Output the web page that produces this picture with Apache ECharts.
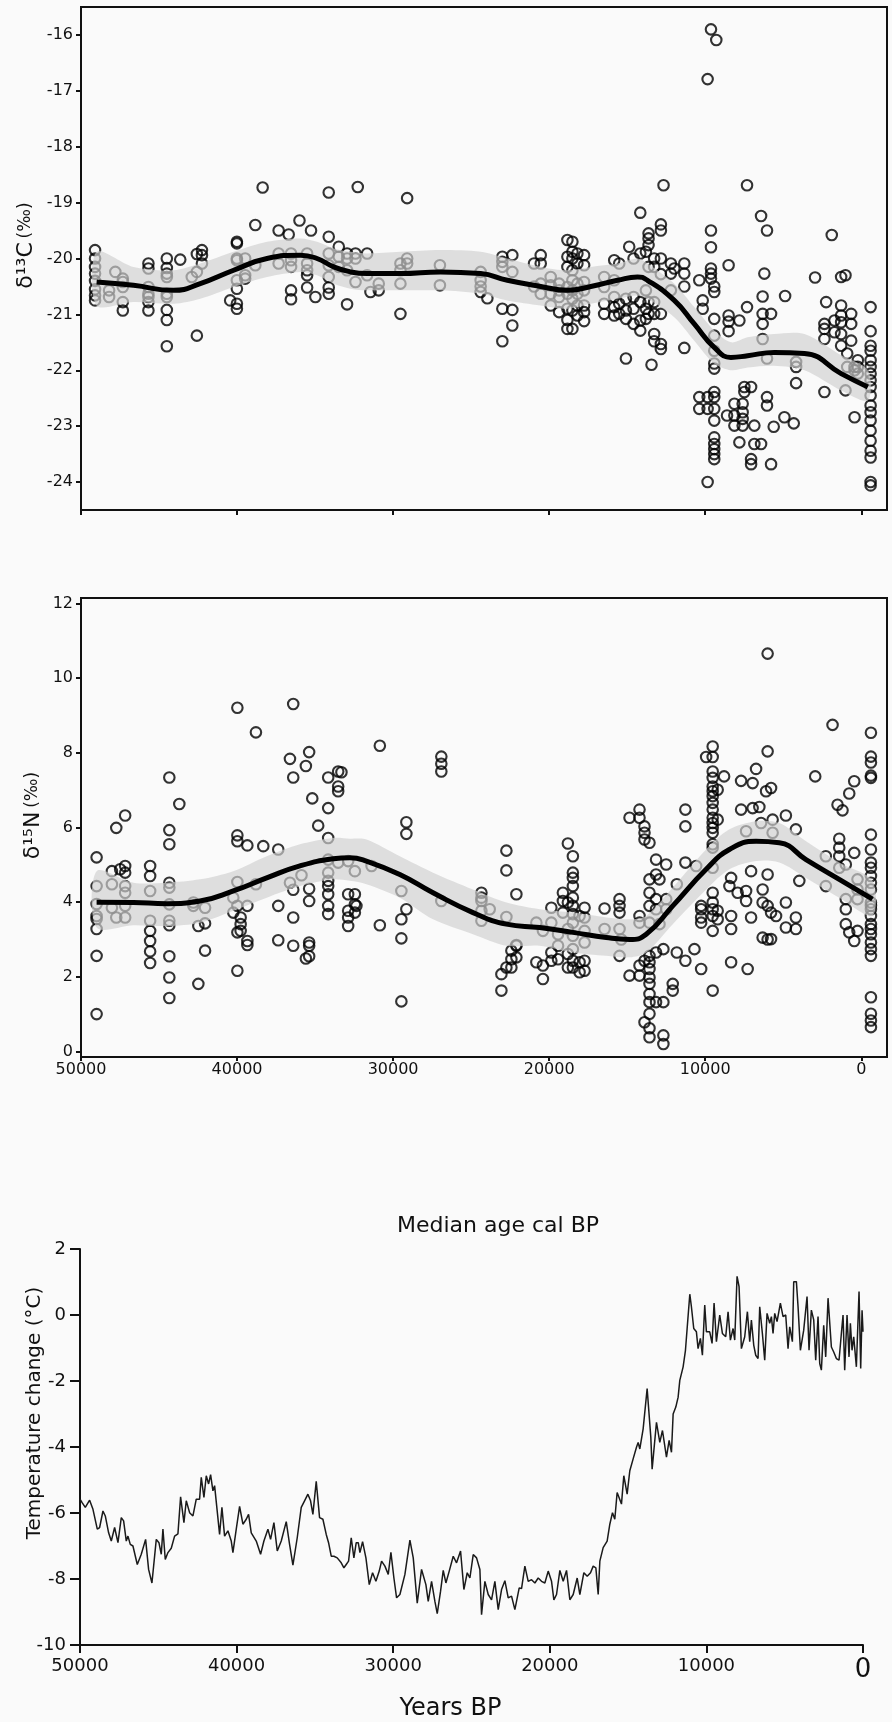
<!DOCTYPE html>
<html>
<head>
<meta charset="utf-8">
<script src="https://cdn.jsdelivr.net/npm/echarts@6/dist/echarts.min.js"></script>
<style>
html,body{margin:0;padding:0;background:#fafafa;}
#chart{width:892px;height:1722px;}
</style>
</head>
<body>
<div id="chart"></div>
<script>
// ---------- δ13C scatter (median age cal BP, ‰) ----------
var c13Points = [
[49100,-19.85],[49100,-20.0],[49100,-20.15],[49100,-20.27],[49100,-20.4],[49100,-20.55],[49100,-20.66],[49100,-20.75],
[48200,-20.57],[48200,-20.69],[47800,-20.24],
[47320,-20.93],[47320,-20.78],[47320,-20.36],[47320,-20.42],[47320,-20.51],
[45680,-20.93],[45680,-20.78],[45680,-20.63],[45680,-20.51],[45680,-20.09],[45680,-20.18],[45680,-20.69],
[44500,-20.0],[44500,-20.17],[44500,-20.27],[44500,-20.33],[44500,-20.63],[44500,-20.69],[44500,-20.92],[44500,-21.1],[44500,-21.57],
[43640,-20.02],[42900,-20.33],[42575,-19.92],[42575,-21.38],[42575,-20.24],
[42250,-19.85],[42250,-19.94],[42250,-20.09],[40440,-20.75],
[40010,-19.7],[40010,-19.73],[40010,-20.54],[40010,-20.81],[40010,-20.9],[40010,-20.0],[40010,-20.03],[40010,-20.39],
[39480,-20.0],[39480,-20.3],[39480,-20.36],[38830,-19.4],[38830,-20.12],[38360,-18.73],
[37335,-19.5],[37335,-19.91],[37335,-20.09],[36690,-19.57],
[36540,-20.57],[36540,-20.73],[36540,-19.91],[36540,-20.03],[36540,-20.15],[36000,-19.32],
[35510,-20.52],[35510,-19.91],[35510,-20.09],[35510,-20.21],[35510,-20.3],[35260,-19.5],[34980,-20.69],
[34125,-18.82],[34125,-19.61],[34125,-20.33],[34125,-20.52],[34125,-20.63],[34125,-19.91],[34125,-20.12],
[33480,-19.79],[33480,-19.97],[33480,-20.15],
[32950,-19.91],[32950,-20.0],[32950,-20.21],[32950,-20.82],
[32410,-20.42],[32410,-20.0],[32410,-19.91],[32265,-18.72],
[31665,-19.91],[31665,-20.3],[31450,-20.6],[30920,-20.57],[30920,-20.45],
[29530,-20.99],[29530,-20.09],[29530,-20.21],[29530,-20.45],
[29100,-18.92],[29100,-20.0],[29100,-20.09],[27000,-20.12],[27000,-20.48],
[24390,-20.24],[24390,-20.39],[24390,-20.5],[24390,-20.6],[23960,-20.71],
[23000,-19.97],[23000,-20.06],[23000,-20.15],[23000,-20.9],[23000,-21.48],
[22360,-19.94],[22360,-20.24],[22360,-20.92],[22360,-21.2],
[20970,-20.09],[20970,-20.5],[20540,-19.94],[20540,-20.09],[20540,-20.45],[20540,-20.63],
[19900,-20.33],[19900,-20.48],[19900,-20.63],[19900,-20.84],
[19360,-20.45],[19360,-20.57],[19360,-20.69],[19360,-20.96],
[18830,-19.67],[18830,-19.97],[18830,-20.15],[18830,-20.51],[18830,-20.63],[18830,-20.9],[18830,-21.1],[18830,-21.26],
[18510,-19.7],[18510,-19.88],[18510,-20.0],[18510,-20.21],[18510,-20.39],[18510,-20.57],[18510,-20.72],[18510,-20.93],[18510,-21.26],
[18190,-19.91],[18190,-20.09],[18190,-20.45],[18190,-20.63],[18190,-20.84],[18190,-21.02],
[17760,-19.94],[17760,-20.12],[17760,-20.42],[17760,-20.57],[17760,-20.84],[17760,-20.96],[17760,-21.12],
[16475,-20.33],[16475,-20.51],[16475,-20.81],[16475,-20.99],
[15830,-20.03],[15830,-20.39],[15830,-20.69],[15830,-20.87],[15830,-21.02],
[15510,-20.09],[15510,-20.81],[15510,-20.99],
[15080,-20.72],[15080,-20.93],[15080,-21.08],[15080,-21.79],[14870,-19.79],
[14590,-20.0],[14590,-20.69],[14590,-20.9],[14590,-21.17],
[14160,-19.18],[14160,-19.91],[14160,-20.78],[14160,-21.11],[14160,-21.29],
[13800,-19.88],[13800,-20.57],[13800,-20.9],[13800,-21.08],
[13630,-19.55],[13630,-19.64],[13630,-19.76],[13630,-20.15],[13630,-20.78],[13630,-20.99],[13440,-21.9],
[13270,-20.0],[13270,-20.15],[13270,-20.78],[13270,-20.99],[13270,-21.35],[13270,-21.48],
[12840,-19.39],[12840,-19.5],[12840,-20.0],[12840,-20.28],[12840,-20.99],[12840,-21.53],[12840,-21.62],
[12670,-18.69],[12200,-20.09],[12200,-20.27],[12200,-20.57],[11980,-20.18],
[11340,-20.09],[11340,-20.27],[11340,-20.5],[11340,-21.6],
[10380,-20.39],[10380,-22.48],[10380,-22.69],[10160,-20.75],[10160,-20.9],
[9845,-22.48],[9845,-22.69],[9845,-24.0],[9845,-16.79],
[9630,-15.9],[9630,-19.5],[9630,-19.8],[9630,-20.18],[9630,-20.27],[9630,-20.36],[9290,-16.09],
[9420,-20.5],[9420,-20.6],[9420,-21.08],[9420,-21.38],[9420,-21.65],[9420,-21.88],[9420,-21.97],[9420,-22.39],[9420,-22.48],[9420,-22.69],[9420,-22.9],[9420,-23.2],[9420,-23.32],[9420,-23.41],[9420,-23.5],[9420,-23.59],
[8500,-20.12],[8500,-21.02],[8500,-21.13],[8500,-21.3],[8600,-22.81],
[8130,-22.6],[8130,-22.99],[8130,-22.81],[7810,-21.11],[7810,-23.29],
[7600,-22.6],[7600,-22.75],[7600,-22.87],[7600,-22.99],[7490,-22.3],[7490,-22.39],
[7320,-18.69],[7320,-20.87],[7060,-22.3],[7060,-23.59],[7060,-23.68],[6850,-22.99],[6850,-23.32],
[6420,-19.24],[6420,-23.32],[6320,-20.68],[6320,-20.99],[6320,-21.17],[6320,-21.44],[6210,-20.27],
[6040,-19.5],[6040,-22.48],[6040,-22.63],[6040,-21.79],[5780,-20.99],[5780,-23.68],[5610,-23.01],
[4880,-20.67],[4925,-22.84],[4325,-22.95],[4175,-22.23],[4175,-21.85],[4175,-21.94],[2960,-20.34],
[2360,-22.39],[2360,-21.17],[2360,-21.26],[2360,-21.44],[2250,-20.78],[1890,-19.58],[1715,-21.11],[1715,-21.32],
[1290,-20.33],[1290,-20.84],[1290,-21.02],[1290,-21.14],[1290,-21.35],[1290,-21.56],
[1010,-20.3],[1010,-22.36],[900,-21.7],[900,-21.94],[645,-20.99],[645,-21.17],[645,-21.47],
[430,-22.84],[430,-21.94],[430,-22.0],[220,-21.82],[220,-21.94],[220,-22.06],
[-600,-20.87],[-600,-21.3],[-600,-21.56],[-600,-21.65],[-600,-21.82],[-600,-21.94],[-600,-22.06],[-600,-22.18],[-600,-22.3],[-600,-22.45],[-600,-22.63],[-600,-22.75],[-600,-22.9],[-600,-23.08],[-600,-23.26],[-600,-23.44],[-600,-23.56],[-600,-24.0],[-600,-24.06]
];
var c13FitYears = [49000,46640,44070,42360,40220,38080,35940,34875,33800,32730,31665,29530,26956,24390,22680,20540,18830,17330,15620,14340,13700,11980,10700,9420,8350,7280,5570,3640,1290,-425];
var c13Fit = [-20.42,-20.48,-20.57,-20.45,-20.21,-20.0,-19.94,-20.0,-20.15,-20.24,-20.27,-20.27,-20.24,-20.27,-20.39,-20.5,-20.57,-20.5,-20.39,-20.33,-20.39,-20.75,-21.17,-21.59,-21.77,-21.74,-21.68,-21.7,-22.06,-22.3];
var c13Hi = [-19.88,-20.15,-20.21,-20.09,-19.88,-19.7,-19.64,-19.7,-19.82,-19.88,-19.91,-19.88,-19.85,-19.88,-20.0,-20.15,-20.21,-20.15,-20.09,-20.0,-20.09,-20.45,-20.87,-21.29,-21.5,-21.41,-21.35,-21.35,-21.73,-22.0];
var c13Lo = [-20.84,-20.78,-20.81,-20.72,-20.51,-20.33,-20.24,-20.3,-20.45,-20.54,-20.57,-20.57,-20.57,-20.63,-20.75,-20.84,-20.9,-20.81,-20.72,-20.66,-20.72,-21.05,-21.47,-21.88,-22.0,-21.95,-21.92,-22.0,-22.36,-22.54];

// ---------- δ15N scatter ----------
var n15Points = [
[49000,5.2],[49000,4.43],[49000,3.95],[49000,3.63],[49000,3.55],[49000,3.28],[49000,2.56],[49000,1.0],
[48020,4.83],[48020,4.48],[48020,3.85],[47740,5.99],[47740,3.59],[47490,4.88],
[47170,6.32],[47170,4.97],[47170,4.79],[47170,4.43],[47170,4.25],[47170,3.9],[47170,3.59],
[45570,4.97],[45570,4.7],[45570,4.3],[45570,3.23],[45570,2.96],[45570,2.68],[45570,2.37],[45570,3.5],
[44340,7.34],[44340,5.93],[44340,5.55],[44340,4.52],[44340,4.39],[44340,3.94],[44340,3.5],[44340,3.38],[44340,2.55],[44340,1.98],[44340,1.43],
[43700,6.63],[42800,3.99],[42800,3.9],[42480,3.36],[42480,1.81],[42050,3.85],[42050,3.43],[42050,2.7],
[40240,4.12],[40240,3.72],
[39980,9.21],[39980,5.79],[39980,5.63],[39980,3.19],[39980,2.16],[39980,4.54],[39980,3.9],
[39770,3.59],[39770,3.41],[39770,3.23],[39340,5.52],[39340,2.96],[39340,2.85],[39340,3.9],
[38790,8.55],[38790,4.48],[38320,5.5],[37360,5.41],[37360,3.9],[37360,2.98],[36610,7.84],[36610,4.52],
[36400,9.31],[36400,7.34],[36400,4.33],[36400,3.59],[36400,2.83],[35870,4.72],[35590,7.65],[35590,2.49],
[35380,8.02],[35380,4.36],[35380,4.03],[35380,2.92],[35380,2.83],[35380,2.55],[35180,6.78],[34800,6.05],
[34160,7.34],[34160,6.52],[34160,5.72],[34160,5.14],[34160,4.79],[34160,4.57],[34160,4.43],[34160,4.21],[34160,3.9],[34160,3.68],
[33520,7.5],[33520,7.1],[33520,6.97],[33520,5.06],[33310,7.48],
[32880,4.21],[32880,3.77],[32880,3.59],[32880,3.36],[32880,5.1],
[32450,4.21],[32450,3.94],[32450,3.72],[32450,4.83],[32350,3.9],[31380,4.97],[30850,8.19],[30850,3.38],
[29470,3.54],[29470,3.03],[29470,1.34],[29470,4.3],[29150,6.14],[29150,5.83],[29150,3.81],
[26910,7.9],[26910,7.71],[26910,7.5],[26910,4.03],
[24340,4.25],[24340,4.12],[24340,4.03],[24340,3.77],[24340,3.5],[23810,3.81],[23060,2.07],[23060,1.63],
[22740,5.38],[22740,4.85],[22740,2.25],[22740,3.6],[22420,2.47],[22420,2.25],[22420,2.7],
[22100,4.21],[22100,2.83],[22100,2.52],[22100,2.85],[20820,2.39],[20820,3.45],[20400,2.3],[20400,1.94],[20400,3.23],
[19860,3.85],[19860,2.65],[19860,2.43],[19860,3.45],[19430,2.83],[19430,2.47],[19430,3.14],
[19120,4.25],[19120,4.03],[19120,3.72],[18800,5.57],[18800,3.99],[18800,2.61],[18800,2.25],[18800,3.28],
[18480,5.23],[18480,4.79],[18480,4.65],[18480,4.43],[18480,4.12],[18480,3.9],[18480,3.68],[18480,2.74],[18480,2.43],[18480,2.25],[18480,3.45],[18480,3.1],
[18050,3.63],[18050,2.39],[18050,2.12],[17730,3.85],[17730,3.59],[17730,2.43],[17730,2.16],[17730,3.23],[17730,2.92],
[16450,3.83],[16450,3.28],[15490,4.08],[15490,3.9],[15490,3.72],[15490,2.56],[15490,3.28],[15380,3.0],
[14850,6.26],[14850,2.03],[14210,6.48],[14210,6.26],[14210,3.63],[14210,2.3],[14210,2.03],[14210,3.45],
[13890,6.03],[13890,5.86],[13890,5.68],[13890,2.43],[13890,0.78],
[13570,5.59],[13570,4.61],[13570,4.25],[13570,3.9],[13570,3.45],[13570,2.56],[13570,2.39],[13570,2.21],[13570,1.98],[13570,1.81],[13570,1.54],[13570,1.32],[13570,1.01],[13570,0.62],[13570,0.38],
[13150,5.14],[13150,4.74],[13150,4.08],[13150,3.81],[13150,2.65],[13150,1.32],[12930,4.61],[12930,3.41],
[12680,2.74],[12680,1.32],[12680,0.43],[12680,0.2],[12500,5.01],[12500,4.08],[12500,3.81],[12080,1.81],[12080,1.63],
[11820,4.48],[11820,2.65],[11270,6.48],[11270,6.03],[11270,5.06],[11270,2.43],[10690,2.74],[10580,4.97],
[10260,3.9],[10260,3.81],[10260,3.59],[10260,3.45],[10260,2.21],[9940,7.89],
[9520,8.17],[9520,7.89],[9520,7.5],[9520,7.33],[9520,7.1],[9520,6.97],[9520,6.84],[9520,6.66],[9520,6.48],[9520,6.26],[9520,6.12],[9520,5.99],[9520,5.86],[9520,5.55],[9520,5.46],[9520,4.25],[9520,3.99],[9520,3.81],[9520,3.63],[9520,3.23],[9520,1.63],[9520,4.92],
[9200,7.01],[9200,6.21],[9200,3.77],[9200,3.54],[8790,7.37],[8340,4.65],[8340,3.63],[8340,3.28],[8340,2.39],[8450,4.43],
[7920,4.25],[7700,7.25],[7700,6.48],[7380,4.3],[7380,4.03],[7380,5.9],[7280,2.21],[7060,3.59],[7060,4.83],
[6960,7.19],[6960,6.52],[6740,7.57],[6530,6.55],[6420,6.12],[6320,4.34],[6320,3.99],[6320,3.05],[6100,6.97],
[6000,10.66],[6000,8.04],[6000,4.74],[6000,3.9],[6000,3.0],[5780,7.06],[5780,3.72],[5780,3.01],[5680,6.21],[5680,5.86],
[5460,3.63],[4830,6.32],[4830,3.99],[4830,3.32],[4190,3.59],[4190,3.28],[4190,5.95],[3970,4.57],[2950,7.37],
[2270,4.43],[2270,5.23],[1840,8.75],[1520,6.61],[1410,5.7],[1410,5.46],[1410,5.23],[1410,4.92],[1200,6.46],
[990,5.01],[990,4.08],[990,3.81],[990,3.41],[770,6.91],[770,3.19],[450,7.24],[450,5.32],[450,2.96],
[240,4.61],[240,3.23],[240,4.34],[240,4.08],
[-620,8.54],[-620,7.9],[-620,7.74],[-620,7.39],[-620,7.33],[-620,5.81],[-620,5.41],[-620,5.06],[-620,4.92],[-620,4.52],[-620,4.34],[-620,3.63],[-620,3.41],[-620,3.28],[-620,3.14],[-620,2.92],[-620,2.74],[-620,2.56],[-620,1.45],[-620,1.01],[-620,0.83],[-620,0.65],[-620,4.7],[-620,3.99],[-620,3.9],[-620,3.81]
];
var n15FitYears = [49000,46640,44500,42370,40240,38100,35970,33840,32770,31710,29570,27440,24880,22740,20610,18480,16340,14850,13780,12080,9940,8450,6740,5250,3540,1410,-720];
var n15Fit = [4.0,3.99,3.96,4.03,4.3,4.65,4.97,5.16,5.19,5.1,4.74,4.25,3.72,3.41,3.32,3.19,3.05,3.0,3.14,3.9,4.88,5.41,5.63,5.59,5.14,4.61,4.08];
var n15Hi = [4.83,4.52,4.52,4.61,4.83,5.23,5.55,5.72,5.7,5.68,5.23,4.79,4.34,3.99,3.81,3.72,3.59,3.54,3.63,4.39,5.41,5.95,6.17,6.12,5.63,5.06,4.57];
var n15Lo = [3.32,3.38,3.36,3.45,3.77,4.12,4.43,4.61,4.57,4.48,4.12,3.54,3.14,2.83,2.83,2.65,2.56,2.52,2.65,3.41,4.34,4.88,5.1,5.06,4.65,4.12,3.63];

// ---------- Temperature change (°C) vs Years BP ----------
var tempSeries = [
[50000,-5.58],[49875,-5.68],[49662,-5.83],[49385,-5.61],[49172,-5.89],[48896,-6.49],[48747,-6.44],[48534,-5.94],[48385,-6.09],
[48172,-6.6],[48002,-6.85],[47789,-6.44],[47576,-6.9],[47364,-6.14],[47215,-6.24],[47044,-6.85],[46938,-6.7],[46789,-6.95],
[46619,-7.0],[46342,-7.56],[46087,-7.25],[45810,-6.8],[45619,-7.71],[45406,-8.12],[45129,-6.8],[44959,-6.9],[44810,-7.25],
[44704,-6.49],[44555,-7.41],[44385,-7.2],[44172,-7.07],[43959,-6.7],[43746,-6.63],[43576,-5.51],[43363,-6.29],[43214,-5.63],
[43001,-5.99],[42788,-6.09],[42576,-5.58],[42363,-5.58],[42256,-4.92],[42086,-5.53],[41937,-4.87],[41788,-5.12],[41660,-4.84],
[41512,-5.33],[41405,-5.17],[41086,-6.65],[40937,-5.83],[40767,-6.7],[40554,-6.54],[40341,-6.85],[40235,-7.2],[40022,-6.49],
[39809,-5.8],[39596,-6.34],[39384,-6.19],[39235,-6.04],[39064,-6.6],[38745,-6.85],[38468,-7.25],[38256,-6.85],[38000,-6.49],
[37830,-6.8],[37617,-6.29],[37404,-7.15],[37149,-6.85],[36830,-6.26],[36617,-6.95],[36404,-7.58],[36128,-6.75],[35872,-5.83],
[35660,-5.63],[35447,-5.43],[35277,-5.63],[35128,-6.04],[34915,-5.04],[34702,-6.14],[34489,-6.19],[34276,-6.65],[34127,-6.9],
[33957,-7.31],[33787,-7.31],[33574,-7.36],[33319,-7.51],[33148,-7.66],[32999,-7.56],[32850,-7.46],[32680,-6.75],[32510,-7.36],
[32361,-6.9],[32232,-6.9],[32125,-7.2],[31955,-6.87],[31742,-7.36],[31529,-8.17],[31317,-7.81],[31104,-8.07],[30891,-7.76],
[30742,-7.46],[30529,-7.61],[30316,-7.86],[30146,-7.19],[29955,-7.97],[29784,-8.57],[29572,-8.47],[29252,-7.86],[28933,-6.82],
[28720,-7.36],[28465,-8.73],[28189,-7.71],[27912,-8.17],[27763,-8.68],[27550,-8.07],[27337,-8.68],[27188,-9.05],[26975,-8.37],
[26805,-7.74],[26635,-8.12],[26422,-7.76],[26167,-7.31],[25954,-7.51],[25699,-7.15],[25486,-8.32],[25273,-7.81],[25103,-7.97],
[24890,-7.26],[24677,-7.36],[24464,-7.71],[24358,-9.08],[24145,-8.07],[23932,-8.47],[23720,-8.63],[23507,-8.07],[23294,-8.93],
[23081,-8.32],[22868,-8.05],[22656,-8.57],[22443,-8.52],[22230,-8.93],[21953,-8.27],[21804,-8.29],[21592,-7.61],[21379,-8.07],
[21166,-8.02],[20953,-8.12],[20740,-7.97],[20528,-8.07],[20315,-8.12],[20102,-7.76],[19889,-8.07],[19740,-8.63],[19570,-8.47],
[19357,-7.74],[19144,-8.07],[18932,-7.74],[18719,-8.63],[18506,-8.47],[18251,-7.97],[18081,-8.47],[17825,-7.81],[17612,-7.92],
[17399,-7.81],[17229,-7.61],[17059,-7.66],[16910,-8.47],[16804,-7.46],[16593,-7.05],[16338,-6.85],[16167,-6.34],[15997,-5.99],
[15849,-6.19],[15700,-5.38],[15423,-5.73],[15274,-4.87],[15061,-5.43],[14891,-4.72],[14678,-4.36],[14465,-4.01],[14358,-3.86],
[14252,-4.06],[14039,-3.45],[13784,-2.23],[13657,-2.28],[13550,-3.7],[13465,-4.67],[13188,-3.25],[12976,-3.86],[12805,-3.5],
[12550,-4.31],[12380,-3.8],[12230,-4.16],[12124,-3.0],[11954,-2.79],[11805,-2.49],[11699,-1.98],[11486,-1.57],[11337,-1.07],
[11230,-0.41],[11060,0.63],[10957,0.25],[10808,-0.41],[10638,-0.51],[10532,-1.02],[10383,-0.71],[10255,-1.22],[10106,0.3],
[9999,-0.51],[9787,-0.51],[9638,-0.86],[9510,0.36],[9361,-0.81],[9148,0.0],[8978,-0.56],[8765,-0.66],[8616,0.1],
[8468,-0.76],[8297,-0.41],[8191,-0.76],[8042,1.17],[7914,0.86],[7765,-1.02],[7553,-0.66],[7382,0.1],[7233,-0.81],
[7127,-0.15],[6978,-0.91],[6850,-1.22],[6701,-1.32],[6595,0.25],[6425,-0.56],[6276,-1.37],[6127,0.05],[5957,-0.25],
[5850,-0.05],[5744,-0.56],[5637,0.05],[5488,-0.2],[5276,0.36],[5105,-0.05],[4935,0.0],[4786,-1.02],[4680,-0.36],
[4509,-0.81],[4424,1.01],[4254,1.01],[4147,0.25],[3998,-1.07],[3786,-0.46],[3573,0.56],[3446,-1.07],[3297,0.15],
[3147,-0.15],[3020,-1.37],[2871,-0.05],[2764,-1.47],[2658,-1.67],[2509,-0.31],[2381,-1.27],[2232,0.51],[2126,0.46],
[2019,-0.97],[1870,-1.12],[1700,-1.32],[1530,-1.37],[1381,-0.56],[1275,0.0],[1169,-1.67],[1019,0.0],[893,-1.27],
[806,-0.25],[700,-1.07],[593,-0.66],[423,-1.57],[253,0.71],[147,-1.62],[60,0.14],[0,-0.51]
];

var xTicks = [0,10000,20000,30000,40000,50000];
var c13Ticks = [-24,-23,-22,-21,-20,-19,-18,-17,-16];
var n15Ticks = [0,2,4,6,8,10,12];

function pairs(xs, ys){ return xs.map(function(x,i){ return [x, ys[i]]; }); }

var FONT = 'DejaVu Sans';
var INK = '#111';
var bandColor = 'rgba(208,208,208,0.68)';
var circleStyle = {color:'rgba(0,0,0,0)', borderColor:'#000', borderWidth:2.1};
function plain(v){ return String(v); }

// confidence band drawn as one polygon through the axes' own coordinate mapping
function bandSeries(axisIdx, years, hi, lo){
  return {
    type:'custom', xAxisIndex:axisIdx, yAxisIndex:axisIdx, silent:true, z:3,
    data:[[years[0], hi[0]]],
    renderItem:function(params, api){
      var pts = [];
      for (var i = 0; i < years.length; i++) pts.push(api.coord([years[i], hi[i]]));
      for (var j = years.length - 1; j >= 0; j--) pts.push(api.coord([years[j], lo[j]]));
      return {type:'polygon', shape:{points:pts, smooth:0.3}, style:{fill:bandColor, stroke:null}};
    }
  };
}

var chart = echarts.init(document.getElementById('chart'), null, {renderer:'canvas'});
var option = {
  backgroundColor:'#fafafa',
  animation:false,
  textStyle:{fontFamily:FONT, color:INK},
  grid:[
    {left:81, top:7, width:806, height:503, show:true, borderColor:INK, borderWidth:2, backgroundColor:'transparent'},
    {left:81, top:598, width:806, height:459, show:true, borderColor:INK, borderWidth:2, backgroundColor:'transparent'},
    {left:80, top:1249, width:783, height:397}
  ],
  xAxis:[
    {gridIndex:0, type:'value', inverse:true, min:-1650, max:50000,
     axisLine:{onZero:false, lineStyle:{color:INK, width:2}},
     axisTick:{customValues:xTicks, length:5, lineStyle:{color:INK, width:2}},
     axisLabel:{show:false}, splitLine:{show:false}},
    {gridIndex:1, type:'value', inverse:true, min:-1650, max:50000,
     name:'Median age cal BP', nameLocation:'middle', nameGap:158, nameMoveOverlap:false,
     nameTextStyle:{fontFamily:FONT, fontSize:22, color:INK, padding:[0,0,0,28]},
     axisLine:{onZero:false, lineStyle:{color:INK, width:2}},
     axisTick:{customValues:xTicks, length:4, lineStyle:{color:INK, width:2}},
     axisLabel:{customValues:xTicks, formatter:plain, fontFamily:FONT, fontSize:16, color:INK, margin:5},
     splitLine:{show:false}},
    {gridIndex:2, type:'value', inverse:true, min:0, max:50000, interval:10000,
     name:'Years BP', nameLocation:'middle', nameGap:52, nameMoveOverlap:false,
     nameTextStyle:{fontFamily:FONT, fontSize:24, color:INK, padding:[0,42,0,0]},
     axisLine:{onZero:false, lineStyle:{color:INK, width:2}},
     axisTick:{length:8, lineStyle:{color:INK, width:2}},
     axisLabel:{fontFamily:FONT, fontSize:18, color:INK, margin:12,
       formatter:function(v){ return v===0 ? '{big|0}' : String(v); },
       rich:{big:{fontFamily:FONT, fontSize:26, color:INK}}},
     splitLine:{show:false}}
  ],
  yAxis:[
    {gridIndex:0, type:'value', min:-24.5, max:-15.5,
     name:'{a|δ¹³C} {b|(‰)}', nameLocation:'middle', nameGap:44, nameMoveOverlap:false,
     nameTextStyle:{fontFamily:FONT, color:INK, padding:[0,0,0,26],
       rich:{a:{fontFamily:FONT, fontSize:22, color:INK}, b:{fontFamily:FONT, fontSize:17, color:INK}}},
     axisLine:{onZero:false, lineStyle:{color:INK, width:2}},
     axisTick:{customValues:c13Ticks, length:5, lineStyle:{color:INK, width:2}},
     axisLabel:{customValues:c13Ticks, formatter:plain, fontFamily:FONT, fontSize:16, color:INK, margin:8},
     splitLine:{show:false}},
    {gridIndex:1, type:'value', min:-0.15, max:12.15,
     name:'{a|δ¹⁵N} {b|(‰)}', nameLocation:'middle', nameGap:37, nameMoveOverlap:false,
     nameTextStyle:{fontFamily:FONT, color:INK, padding:[0,0,0,24],
       rich:{a:{fontFamily:FONT, fontSize:22, color:INK}, b:{fontFamily:FONT, fontSize:17, color:INK}}},
     axisLine:{onZero:false, lineStyle:{color:INK, width:2}},
     axisTick:{customValues:n15Ticks, length:5, lineStyle:{color:INK, width:2}},
     axisLabel:{customValues:n15Ticks, formatter:plain, fontFamily:FONT, fontSize:16, color:INK, margin:8},
     splitLine:{show:false}},
    {gridIndex:2, type:'value', min:-10, max:2, interval:2,
     name:'Temperature change (°C)', nameLocation:'middle', nameGap:35, nameMoveOverlap:false,
     nameTextStyle:{fontFamily:FONT, fontSize:20, color:INK, padding:[0,0,0,68]},
     axisLine:{onZero:false, lineStyle:{color:INK, width:2}},
     axisTick:{length:10, lineStyle:{color:INK, width:2}},
     axisLabel:{fontFamily:FONT, fontSize:18, color:INK, margin:14},
     splitLine:{show:false}}
  ],
  series:[
    {type:'scatter', xAxisIndex:0, yAxisIndex:0, data:c13Points, symbol:'circle', symbolSize:10.5, itemStyle:circleStyle, z:2, silent:true},
    bandSeries(0, c13FitYears, c13Hi, c13Lo),
    {type:'line', xAxisIndex:0, yAxisIndex:0, data:pairs(c13FitYears, c13Fit), smooth:true, symbol:'none', lineStyle:{color:'#000', width:5}, z:4, silent:true},

    {type:'scatter', xAxisIndex:1, yAxisIndex:1, data:n15Points, symbol:'circle', symbolSize:10.5, itemStyle:circleStyle, z:2, silent:true},
    bandSeries(1, n15FitYears, n15Hi, n15Lo),
    {type:'line', xAxisIndex:1, yAxisIndex:1, data:pairs(n15FitYears, n15Fit), smooth:true, symbol:'none', lineStyle:{color:'#000', width:5}, z:4, silent:true},

    {type:'line', xAxisIndex:2, yAxisIndex:2, data:tempSeries, symbol:'none', lineStyle:{color:'#1a1a1a', width:1.5}, z:4, silent:true}
  ]
};
chart.setOption(option);
</script>
</body>
</html>
